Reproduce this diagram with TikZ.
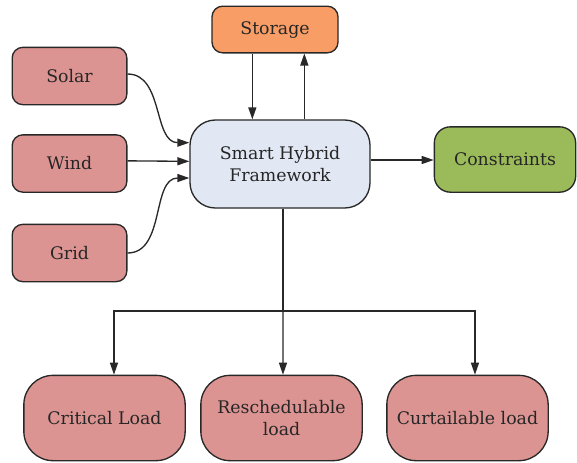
\documentclass[tikz,border=0pt]{standalone}
\usepackage{fontspec}
\setmainfont{DejaVu Serif}
\usetikzlibrary{arrows.meta,positioning}

\definecolor{loadred}{RGB}{220,148,146}
\definecolor{storeorange}{RGB}{247,157,101}
\definecolor{hubblue}{RGB}{225,232,244}
\definecolor{limitgreen}{RGB}{155,187,90}
\definecolor{edgegray}{RGB}{40,40,40}

\begin{document}
\begin{tikzpicture}[
        x=0.75pt, y=-0.75pt,
        every node/.style={font=\fontsize{13}{16}\selectfont, text=black!85},
        box_node/.style={draw=edgegray, line width=1pt, inner sep=0pt, align=center},
        source_node/.style={box_node, fill=loadred, rounded corners=8pt, minimum width=86pt, minimum height=43pt},
        load_node/.style={box_node, fill=loadred, rounded corners=22pt, minimum width=121pt, minimum height=64pt},
        flow_arrow/.style={draw=edgegray, line width=1pt, -{Triangle[length=9pt,width=6pt]}}
    ]
        \useasboundingbox (0,0) rectangle (577,462);

        % Zdroje energie
        \node[source_node] (solar) at (69.5,76) {Solar};
        \node[source_node] (wind) at (69.5,163.5) {Wind};
        \node[source_node] (grid) at (69.5,253) {Grid};

        % Jadro - ridici ramec
        \node[box_node, fill=hubblue, rounded corners=19pt, minimum width=135pt, minimum height=66pt] (hub) at (280,164) {Smart Hybrid\\Framework};
        \node[box_node, fill=storeorange, rounded corners=8pt, minimum width=94.5pt, minimum height=35pt] (storage) at (275,29.5) {Storage};
        \node[box_node, fill=limitgreen, rounded corners=12pt, minimum width=106pt, minimum height=49pt] (limits) at (505,159.5) {Constraints};

        % Zateze
        \node[load_node] (critical) at (104.5,418) {Critical Load};
        \node[load_node] (resched) at (281.5,418) {Reschedulable\\load};
        \node[load_node] (curtail) at (467.5,418) {Curtailable load};

        % Toky do ramce
        \draw[flow_arrow] ([yshift=1.5pt]solar.east) to[out=0, in=180] ([yshift=16pt]hub.west);
        \draw[flow_arrow] ([yshift=2pt]wind.east) -- ([yshift=2pt]hub.west);
        \draw[flow_arrow] (grid.east) to[out=0, in=180] ([yshift=-10.5pt]hub.west);
        \draw[flow_arrow] ([xshift=-17pt]storage.south) -- ([xshift=-17pt]storage.south |- hub.north);
        \draw[flow_arrow] ([xshift=22pt]storage.south |- hub.north) -- ([xshift=22pt]storage.south);
        \draw[flow_arrow] ([yshift=3pt]hub.east) -- ([yshift=3pt]hub.east -| limits.west);

        % Rozdeleni na zateze
        \coordinate (split) at ([xshift=2.25pt]hub.south |- 0,311);
        \draw[draw=edgegray, line width=1pt] ([xshift=2.25pt]hub.south) -- (split);
        \draw[flow_arrow] (split) -- ([xshift=1.1pt]resched.north);
        \draw[flow_arrow] (split) -| ([xshift=7.1pt]critical.north);
        \draw[flow_arrow] (split) -| ([xshift=5.6pt]curtail.north);
    \end{tikzpicture}
\end{document}
